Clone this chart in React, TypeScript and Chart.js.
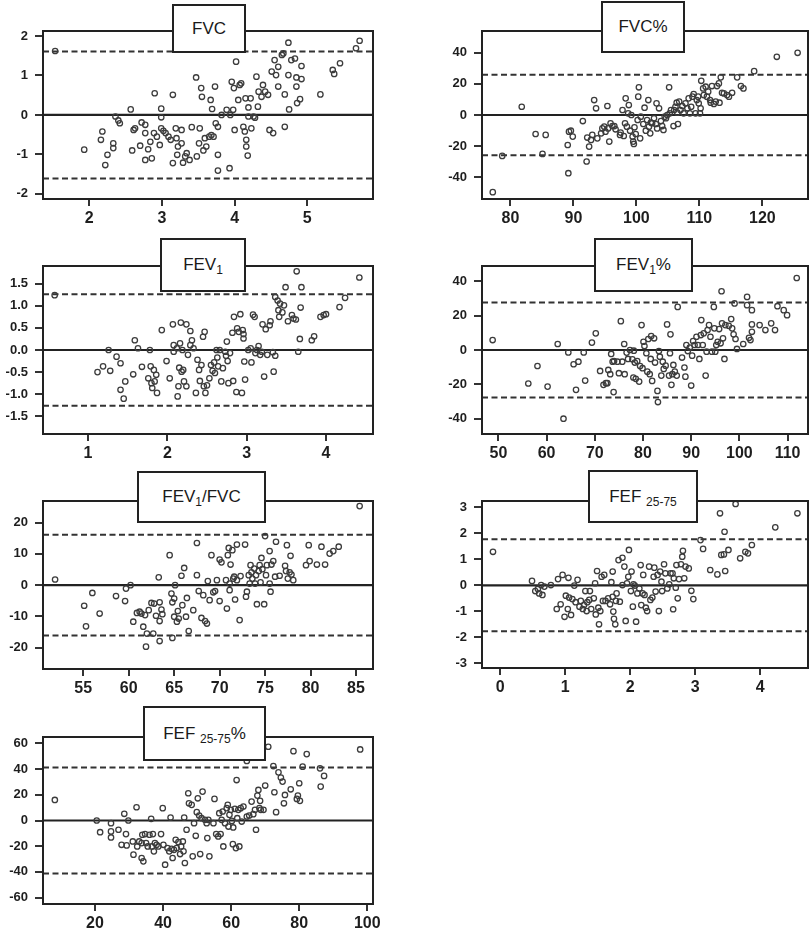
import React, { useEffect, useRef } from "react";
import { Chart, registerables } from "chart.js";

Chart.register(...registerables);

const FONT = '"Liberation Sans", Arial, Helvetica, sans-serif';

// ---------- FVC ----------
const fvcMean = [1.53,1.93,2.18,2.16,2.22,2.25,2.33,2.33,2.36,2.40,2.42,2.57,2.59,2.61,2.63,2.72,2.77,2.70,2.77,2.81,2.86,2.77,2.84,2.90,2.89,2.93,2.97,2.99,2.99,2.99,3.02,3.05,3.09,3.12,3.15,3.15,3.19,3.20,3.22,3.21,3.27,3.27,3.29,3.32,3.34,3.38,3.41,3.47,3.48,3.51,3.52,3.54,3.55,3.57,3.59,3.61,3.65,3.67,3.68,3.71,3.73,3.69,3.74,3.77,3.77,3.77,3.82,3.89,3.93,3.94,3.96,3.98,3.99,4.00,4.02,4.05,4.07,4.09,4.12,4.14,4.15,4.16,4.16,4.18,4.19,4.19,4.22,4.23,4.26,4.28,4.30,4.32,4.33,4.37,4.39,4.42,4.46,4.48,4.51,4.53,4.55,4.57,4.60,4.60,4.65,4.67,4.69,4.69,4.74,4.74,4.75,4.78,4.83,4.85,4.85,4.86,4.90,4.92,4.92,5.18,5.35,5.37,5.45,5.67,5.72];
const fvcDiff = [1.62,-0.88,-0.42,-0.63,-1.27,-1.01,-0.72,-0.84,-0.04,-0.14,-0.21,0.14,-0.90,-0.38,-0.34,-0.19,-0.25,-0.78,-1.14,-0.87,-1.10,-0.46,-0.68,0.55,-0.46,-0.55,-0.76,0.16,-0.06,-0.34,-0.40,-0.46,-0.55,-0.63,0.51,-1.22,-0.34,-0.59,-0.80,-1.01,-0.38,-0.72,-1.21,-1.05,-0.97,-1.14,-0.31,0.95,-1.05,-0.72,-0.34,0.68,0.46,-0.90,-0.59,-0.80,-0.55,0.38,-0.51,-0.55,0.72,0.15,-0.21,-0.30,-1.01,-1.41,0.00,0.13,-1.35,0.00,0.84,0.13,0.68,-0.38,1.35,0.38,0.76,0.80,-0.30,-0.42,0.42,-0.63,-0.80,-1.03,0.19,-0.04,0.42,-0.34,-0.04,-0.07,0.97,0.21,0.59,0.46,0.76,0.59,0.51,-0.38,1.10,-0.46,1.39,1.01,1.22,0.72,1.52,1.56,0.52,-0.30,1.83,1.01,0.14,1.39,1.43,0.72,0.95,0.30,0.40,1.24,0.91,0.52,1.14,1.04,1.31,1.69,1.88];
const fvcXTicks = [2, 3, 4, 5];
const fvcXLabels = ["2", "3", "4", "5"];
const fvcYTicks = [-2, -1, 0, 1, 2];
const fvcYLabels = ["-2", "-1", "0", "1", "2"];
const fvcLimit = 1.61;

// ---------- FVC% ----------
const fvcPctMean = [77.2,78.7,81.8,84.0,85.1,85.6,89.1,89.2,89.3,89.6,89.9,91.5,92.1,92.2,92.5,92.8,93.0,93.3,93.6,93.8,94.4,94.6,94.9,95.1,95.4,95.5,95.7,95.9,96.2,96.5,96.7,97.4,97.5,97.8,98.0,98.2,98.3,98.5,98.7,98.8,99.0,99.2,99.4,99.5,99.6,99.7,99.9,100.2,100.3,100.4,100.6,100.7,101.1,101.3,101.5,101.7,101.9,102.0,102.2,102.3,102.5,102.8,103.1,103.2,103.3,103.6,103.9,104.1,104.3,104.5,104.7,104.9,105.2,105.3,105.5,105.9,106.0,106.2,106.4,106.5,106.6,106.8,107.0,107.3,107.5,107.8,108.1,108.3,108.5,108.7,108.9,109.1,109.4,109.6,109.8,109.9,110.1,110.2,110.3,110.6,110.7,111.0,111.2,111.4,111.7,111.8,112.0,112.3,112.6,112.8,113.1,113.2,113.4,113.6,113.9,114.4,114.7,115.2,116.0,116.6,117.0,118.7,122.3,125.6];
const fvcPctDiff = [-49.6,-26.3,5.3,-12.2,-25.0,-12.8,-19.3,-37.4,-10.7,-10.1,-13.9,-3.9,-29.9,-14.5,-20.3,-16.0,-12.8,9.6,4.3,-15.0,-11.8,-8.6,-7.5,-10.7,5.8,-8.6,-17.1,-5.3,-7.1,-7.1,-9.2,-12.8,-11.3,3.2,-13.5,-5.3,10.7,-7.5,1.1,6.4,-10.1,0.0,-13.9,-17.1,-18.6,-7.9,-12.2,-3.2,11.8,17.8,-15.0,-1.1,-5.8,4.7,-10.1,-3.2,9.6,-7.5,-11.8,-4.9,-5.3,-2.1,-5.8,7.5,-8.6,4.3,-3.9,-7.1,-9.6,-1.1,-2.1,0.0,17.8,1.1,3.2,-7.1,3.2,5.3,7.9,1.5,-5.8,8.6,3.2,5.8,1.1,7.5,4.3,10.7,1.1,5.3,11.8,13.5,1.1,9.6,11.8,7.5,1.1,4.3,22.0,17.1,12.8,18.2,11.8,15.0,9.6,7.9,18.6,7.1,8.6,18.6,20.3,7.9,24.2,14.3,13.9,12.8,11.8,14.3,24.2,18.6,17.1,28.2,37.4,40.0];
const fvcPctXTicks = [80, 90, 100, 110, 120];
const fvcPctXLabels = ["80", "90", "100", "110", "120"];
const fvcPctYTicks = [-40, -20, 0, 20, 40];
const fvcPctYLabels = ["-40", "-20", "0", "20", "40"];
const fvcPctLimit = 25.8;

// ---------- FEV1 ----------
const fev1Mean = [0.58,1.12,1.19,1.26,1.28,1.36,1.41,1.41,1.45,1.47,1.57,1.59,1.63,1.68,1.76,1.78,1.79,1.80,1.81,1.83,1.84,1.86,1.87,1.93,1.99,2.03,2.07,2.08,2.08,2.12,2.13,2.14,2.15,2.16,2.17,2.18,2.19,2.20,2.21,2.24,2.24,2.26,2.29,2.29,2.31,2.33,2.36,2.38,2.40,2.41,2.43,2.45,2.46,2.47,2.48,2.50,2.53,2.55,2.57,2.59,2.60,2.62,2.63,2.64,2.66,2.68,2.70,2.73,2.74,2.75,2.76,2.77,2.79,2.82,2.83,2.84,2.87,2.88,2.90,2.92,2.94,2.95,2.96,2.96,2.97,2.98,3.02,3.05,3.06,3.08,3.10,3.11,3.13,3.15,3.17,3.19,3.20,3.22,3.24,3.26,3.29,3.30,3.33,3.34,3.36,3.36,3.39,3.40,3.41,3.42,3.45,3.47,3.49,3.52,3.57,3.59,3.62,3.63,3.65,3.67,3.68,3.69,3.82,3.85,3.93,3.97,4.00,4.17,4.24,4.42];
const fev1Diff = [1.24,-0.50,-0.37,0.00,-0.47,-0.15,-0.30,-0.90,-1.10,-0.71,-0.55,0.22,0.04,-0.38,-0.64,0.00,-0.37,-0.75,-0.86,-0.45,-0.71,-0.56,-0.97,0.45,-0.25,-0.64,0.58,0.11,-0.04,0.04,-1.05,-0.82,-0.40,0.15,0.62,-0.49,0.00,-0.45,-0.71,0.58,-0.82,-0.11,0.11,0.43,0.22,0.04,-0.97,-0.22,-0.45,-0.70,-0.34,0.30,-0.82,0.41,-0.97,-0.80,-0.64,-0.34,-0.47,-0.28,-0.52,0.00,-0.17,-0.37,0.00,-0.71,-0.41,-0.04,-0.13,0.19,-0.25,-0.75,-0.07,0.39,-0.70,0.75,-0.95,0.49,0.41,0.81,-0.97,0.45,0.36,0.26,-0.26,-0.67,0.00,0.04,-0.28,0.80,0.75,-0.07,0.00,0.09,-0.11,-0.04,0.58,-0.60,0.47,-0.11,0.56,0.65,-0.05,-0.49,-0.13,1.20,1.12,0.90,0.75,1.05,0.85,1.01,1.42,0.65,0.79,0.71,0.69,1.78,-0.04,0.25,0.96,1.42,0.22,0.31,0.75,0.79,0.81,0.97,1.18,1.64];
const fev1XTicks = [1, 2, 3, 4];
const fev1XLabels = ["1", "2", "3", "4"];
const fev1YTicks = [-1.5, -1.0, -0.5, 0.0, 0.5, 1.0, 1.5];
const fev1YLabels = ["-1.5", "-1.0", "-0.5", "0.0", "0.5", "1.0", "1.5"];
const fev1Limit = 1.26;

// ---------- FEV1% ----------
const fev1PctMean = [48.8,56.2,58.1,60.2,62.3,63.5,64.5,65.6,66.1,66.6,67.7,68.0,69.4,70.2,71.1,71.8,72.3,72.6,72.8,73.2,73.4,73.7,73.9,74.0,74.7,75.0,75.4,75.7,76.1,76.2,76.6,76.9,77.3,77.8,78.0,78.1,78.3,78.5,78.8,79.2,79.4,79.7,79.9,80.1,80.3,80.7,80.9,81.1,81.4,81.6,81.7,81.9,82.3,82.5,83.0,83.1,83.3,83.5,83.8,84.1,84.3,84.7,85.0,85.4,85.6,85.7,85.9,86.1,86.3,86.6,87.0,87.2,88.1,88.6,88.8,89.0,89.3,89.7,90.0,90.2,90.4,90.7,91.1,91.4,91.7,92.0,92.1,92.4,92.6,93.0,93.2,93.4,93.7,94.0,94.3,94.7,94.8,95.0,95.2,95.5,95.8,96.1,96.3,96.4,96.6,96.9,97.1,97.8,98.3,98.5,98.8,99.0,99.2,99.5,100.8,101.6,101.6,102.0,102.3,102.6,102.6,102.6,104.2,105.4,106.6,107.4,107.9,109.2,109.9,111.9];
const fev1PctDiff = [5.8,-19.5,-9.3,-21.3,3.5,-40.0,-1.4,-8.3,-23.2,-6.8,-1.4,-17.8,4.3,9.7,-12.2,-20.3,-19.3,-19.3,-11.6,-14.1,-2.3,-6.8,-24.5,-6.4,-6.8,-13.5,16.8,-6.8,3.5,-14.1,-1.5,-5.2,0.0,-5.4,-16.0,-0.4,-7.3,-16.8,-6.4,-18.4,-9.3,14.5,-10.6,4.8,2.3,-1.9,-12.6,6.4,-14.1,-5.2,8.1,-18.0,6.8,-7.3,-23.8,-30.3,-0.6,-3.9,-14.9,-6.8,-11.0,-9.1,14.9,-14.9,-1.9,9.1,-20.3,-14.1,-8.7,-12.6,-14.9,25.1,-4.4,-10.2,-15.5,2.9,-0.6,1.4,-20.7,-3.3,5.2,2.9,7.7,2.9,-5.2,8.7,17.4,2.9,9.7,-14.9,-1.0,11.6,14.5,7.7,-1.0,25.1,12.6,-1.0,2.9,4.8,12.2,3.9,34.2,15.5,6.8,-5.2,14.5,14.1,18.0,12.6,9.1,27.1,6.4,0.6,3.5,30.9,26.1,7.1,5.8,23.2,14.9,10.6,14.5,11.6,15.5,11.6,25.5,23.2,20.3,41.9];
const fev1PctXTicks = [50, 60, 70, 80, 90, 100, 110];
const fev1PctXLabels = ["50", "60", "70", "80", "90", "100", "110"];
const fev1PctYTicks = [-40, -20, 0, 20, 40];
const fev1PctYLabels = ["-40", "-20", "0", "20", "40"];
const fev1PctLimit = 27.6;

// ---------- FEV1/FVC ----------
const ratioMean = [51.9,55.1,55.3,56.0,56.8,58.6,59.6,59.7,60.2,60.5,60.9,61.2,61.4,61.6,61.8,61.9,62.0,62.2,62.5,62.7,62.8,63.0,63.3,63.4,63.4,63.4,63.6,63.7,64.5,64.7,64.8,64.8,65.0,65.0,65.1,65.3,65.4,65.5,65.8,65.9,66.1,66.3,66.4,66.6,67.1,67.5,67.5,67.7,68.0,68.2,68.4,68.6,68.7,68.9,69.1,69.3,69.5,69.7,70.0,70.0,70.2,70.7,70.8,70.9,71.0,71.1,71.1,71.2,71.4,71.5,71.6,71.7,71.9,71.9,72.2,72.3,72.8,72.9,73.0,73.2,73.3,73.4,73.5,73.6,73.8,73.9,74.0,74.1,74.3,74.4,74.5,74.6,74.7,74.9,75.0,75.1,75.2,75.5,75.5,75.6,75.7,75.9,76.1,76.2,76.6,77.2,77.3,77.4,77.5,77.7,77.8,77.9,78.1,79.5,79.8,79.9,80.7,81.2,81.6,82.1,82.5,83.1,85.4];
const ratioDiff = [1.8,-6.6,-13.2,-2.5,-9.1,-3.5,-5.1,-1.1,0.0,-11.7,-8.9,-8.5,-9.1,-13.3,-9.6,-19.7,-15.5,-8.0,-5.7,-15.5,-5.9,-9.8,2.5,-5.5,-11.5,-17.9,-7.8,-9.3,9.6,-2.7,-5.5,-16.9,-4.3,-10.1,0.0,-11.7,-8.3,-10.7,3.0,-6.4,5.5,-10.1,-4.1,-14.7,-8.0,13.5,3.2,-1.9,-10.5,-3.2,-11.5,-12.3,1.3,-4.8,9.6,-2.3,-1.9,1.6,8.2,-5.1,7.3,1.6,-7.5,9.6,11.9,-1.6,0.5,6.6,11.2,2.1,2.7,-4.6,13.0,1.6,-11.2,2.9,13.0,-3.7,-2.1,3.2,0.5,6.4,4.1,2.1,5.3,0.5,3.2,-6.1,4.5,6.4,0.9,8.7,5.1,-6.1,15.7,3.2,6.4,0.5,10.9,-2.1,6.6,7.7,2.7,13.9,3.0,6.2,4.5,12.8,2.1,4.1,9.4,3.4,1.6,6.4,12.8,7.7,6.6,12.3,6.6,10.1,10.9,12.3,25.3];
const ratioXTicks = [55, 60, 65, 70, 75, 80, 85];
const ratioXLabels = ["55", "60", "65", "70", "75", "80", "85"];
const ratioYTicks = [-20, -10, 0, 10, 20];
const ratioYLabels = ["-20", "-10", "0", "10", "20"];
const ratioLimit = 16.1;

// ---------- FEF25-75 ----------
const fefMean = [-0.11,0.49,0.54,0.58,0.60,0.63,0.65,0.68,0.78,0.87,0.89,0.93,0.96,0.99,1.01,1.04,1.05,1.06,1.09,1.11,1.14,1.16,1.19,1.22,1.24,1.27,1.29,1.31,1.33,1.34,1.37,1.38,1.40,1.44,1.46,1.47,1.49,1.51,1.52,1.54,1.56,1.58,1.60,1.62,1.66,1.69,1.71,1.73,1.73,1.74,1.75,1.77,1.78,1.79,1.82,1.84,1.88,1.88,1.91,1.93,1.95,1.97,1.98,2.01,2.02,2.04,2.05,2.07,2.09,2.11,2.14,2.16,2.17,2.19,2.20,2.22,2.24,2.26,2.29,2.31,2.34,2.36,2.37,2.39,2.42,2.44,2.46,2.48,2.49,2.52,2.54,2.57,2.60,2.62,2.65,2.66,2.67,2.70,2.71,2.73,2.75,2.78,2.80,2.81,2.83,2.85,2.90,2.94,2.97,3.08,3.12,3.23,3.34,3.38,3.40,3.44,3.46,3.45,3.51,3.62,3.69,3.77,3.81,3.87,4.23,4.57];
const fefDiff = [1.29,0.17,-0.22,-0.14,-0.31,0.01,-0.37,-0.05,0.01,-0.91,0.24,-0.73,0.40,-1.21,-0.40,-0.91,0.29,-0.47,-1.14,-0.53,-0.01,-0.65,0.21,-0.82,-0.60,-0.91,-0.76,-0.22,-0.99,-0.65,-0.56,-0.22,-0.91,-0.50,0.08,-1.12,0.55,-0.86,-1.50,-0.99,0.33,-0.60,0.40,-0.60,-0.50,-0.73,0.12,0.53,-0.44,-1.01,-1.29,-1.50,-0.60,-0.31,0.97,-0.63,1.06,0.01,0.72,-1.37,0.08,0.33,1.36,-0.22,0.53,-0.82,0.04,-0.01,-1.40,-0.31,-0.12,0.78,-0.76,-0.31,0.40,-0.37,-0.86,-0.99,0.72,-0.56,-0.47,0.33,0.68,-0.24,0.40,-0.99,0.53,0.14,-0.22,0.81,0.46,-0.12,0.04,0.46,0.46,-0.92,0.27,-0.09,0.78,-0.50,0.24,0.81,1.10,1.33,0.27,0.72,0.65,-0.21,-0.53,1.74,1.40,0.59,0.42,2.77,1.17,1.19,0.55,2.06,1.36,3.13,1.04,1.29,1.23,1.55,2.23,2.77];
const fefXTicks = [0, 1, 2, 3, 4];
const fefXLabels = ["0", "1", "2", "3", "4"];
const fefYTicks = [-3, -2, -1, 0, 1, 2, 3];
const fefYLabels = ["-3", "-2", "-1", "0", "1", "2", "3"];
const fefLimit = 1.77;

// ---------- FEF25-75% ----------
const fefPctMean = [8.2,20.5,21.5,24.7,24.7,24.7,26.9,27.8,28.6,29.1,29.3,29.8,31.1,31.3,32.2,32.4,33.0,33.7,33.7,33.9,34.2,34.7,35.0,35.5,36.0,36.5,36.7,37.0,37.3,37.6,38.1,38.6,39.4,39.9,40.1,40.6,41.3,41.8,42.2,42.5,42.8,43.2,43.7,44.0,44.5,45.0,45.3,45.8,46.0,46.2,46.4,46.9,47.4,47.6,48.4,48.7,49.1,49.6,49.9,50.2,50.6,50.9,51.3,51.6,52.3,52.8,53.0,53.3,53.6,54.8,55.1,55.6,56.2,56.5,56.9,57.2,57.5,57.7,58.2,58.7,59.0,59.2,59.5,59.9,60.2,60.5,60.6,61.1,61.4,61.6,61.8,62.1,62.4,62.8,63.1,63.6,64.6,64.6,65.3,66.0,66.5,67.0,67.3,67.7,68.0,68.3,68.5,68.7,69.5,70.0,70.9,72.4,72.7,73.2,73.9,74.6,75.1,75.5,75.8,77.5,78.3,79.3,79.6,80.0,80.2,81.0,82.2,86.1,86.3,87.3,97.9];
const fefPctDiff = [16.0,0.0,-9.1,-2.1,-8.5,-13.2,-7.2,-18.9,5.2,-10.6,-19.4,0.0,-16.3,-26.6,10.3,-20.2,-16.3,-17.6,-29.2,-11.1,-31.8,-10.6,-17.6,-20.2,-11.1,1.3,-20.2,-10.6,-24.0,-17.6,-18.9,-20.2,-10.6,9.6,-18.9,-34.4,-21.5,-24.0,2.3,-22.0,-29.2,-22.8,-15.0,-21.5,-16.8,-26.1,-20.2,-16.3,-24.0,2.3,-33.1,-7.2,21.2,13.4,12.2,-27.9,-2.1,-11.9,6.5,17.3,3.9,-26.1,1.8,22.5,0.5,-2.1,-13.7,0.5,-27.9,-2.1,16.8,-10.6,-12.4,5.7,-10.6,0.5,7.0,-20.2,-2.1,9.6,12.2,-4.7,4.4,8.3,-0.3,-18.4,-5.4,9.1,-21.5,31.5,1.8,8.3,-20.2,9.6,-0.8,10.9,46.3,3.1,3.9,14.7,4.9,8.3,-7.2,19.4,23.8,9.6,15.3,8.3,8.3,27.2,57.4,42.4,22.0,6.5,37.5,33.4,30.3,13.4,19.9,24.3,54.0,16.8,19.4,29.0,15.3,41.9,51.7,40.6,26.4,34.7,55.3];
const fefPctXTicks = [20, 40, 60, 80, 100];
const fefPctXLabels = ["20", "40", "60", "80", "100"];
const fefPctYTicks = [-60, -40, -20, 0, 20, 40, 60];
const fefPctYLabels = ["-60", "-40", "-20", "0", "20", "40", "60"];
const fefPctLimit = 41.3;

// ---------- layout (plot boxes and title boxes, in page pixels) ----------
type Box = { l: number; t: number; r: number; b: number };

const framePlugin = {
  id: "frame",
  afterDatasetsDraw(chart: any) {
    const { ctx, chartArea: a } = chart;
    ctx.save();
    ctx.strokeStyle = "#222";
    ctx.lineWidth = 2;
    ctx.strokeRect(a.left, a.top, a.right - a.left, a.bottom - a.top);
    ctx.restore();
  },
};

type PanelProps = {
  xs: number[];
  ys: number[];
  xMin: number;
  xMax: number;
  yMin: number;
  yMax: number;
  xTicks: number[];
  xLabels: string[];
  yTicks: number[];
  yLabels: string[];
  limit: number;
  box: Box;
  canvasL: number;
  canvasR: number;
  titleBox: Box;
  title: React.ReactNode;
};

const PAD_TOP = 22;
const Y_AXIS_W = 43;
const X_AXIS_H = 36;

function Panel(p: PanelProps) {
  const ref = useRef<HTMLCanvasElement>(null);
  const cw = p.canvasR - p.canvasL;
  const ch = p.box.b - p.box.t + PAD_TOP + X_AXIS_H;

  useEffect(() => {
    const canvas = ref.current;
    if (!canvas) return;
    const pts = p.xs.map((x, i) => ({ x, y: p.ys[i] }));
    const chart = new Chart(canvas, {
      type: "scatter",
      data: {
        datasets: [
          {
            data: pts,
            pointRadius: 2.7,
            pointHoverRadius: 2.7,
            pointBorderWidth: 1.3,
            pointBorderColor: "#3c3c3c",
            pointBackgroundColor: "rgba(0,0,0,0)",
            borderColor: "#3c3c3c",
            backgroundColor: "rgba(0,0,0,0)",
          },
          {
            data: [
              { x: p.xMin, y: 0 },
              { x: p.xMax, y: 0 },
            ],
            showLine: true,
            pointRadius: 0,
            borderColor: "#222",
            borderWidth: 2.2,
          },
          {
            data: [
              { x: p.xMin, y: p.limit },
              { x: p.xMax, y: p.limit },
            ],
            showLine: true,
            pointRadius: 0,
            borderColor: "#333",
            borderWidth: 2,
            borderDash: [6, 3.5],
          },
          {
            data: [
              { x: p.xMin, y: -p.limit },
              { x: p.xMax, y: -p.limit },
            ],
            showLine: true,
            pointRadius: 0,
            borderColor: "#333",
            borderWidth: 2,
            borderDash: [6, 3.5],
          },
        ],
      },
      options: {
        responsive: false,
        animation: false,
        devicePixelRatio: 1,
        events: [],
        layout: {
          padding: { left: 0, top: PAD_TOP, right: p.canvasR - p.box.r, bottom: 0 },
        },
        plugins: { legend: { display: false }, tooltip: { enabled: false } },
        scales: {
          x: {
            type: "linear",
            position: "bottom",
            min: p.xMin,
            max: p.xMax,
            afterBuildTicks: (s: any) => {
              s.ticks = p.xTicks.map((v) => ({ value: v }));
            },
            afterFit: (s: any) => {
              s.height = X_AXIS_H;
            },
            grid: {
              drawOnChartArea: false,
              drawTicks: true,
              tickLength: 7,
              color: "#333",
              lineWidth: 2,
            },
            border: { display: false },
            ticks: {
              autoSkip: false,
              maxRotation: 0,
              padding: 3,
              color: "#1e1e1e",
              font: { family: FONT, size: 16, weight: "bold" },
              callback: (v: any) => {
                const i = p.xTicks.indexOf(Number(v));
                return i >= 0 ? p.xLabels[i] : "";
              },
            },
          },
          y: {
            type: "linear",
            position: "left",
            min: p.yMin,
            max: p.yMax,
            afterBuildTicks: (s: any) => {
              s.ticks = p.yTicks.map((v) => ({ value: v }));
            },
            afterFit: (s: any) => {
              s.width = Y_AXIS_W;
            },
            grid: {
              drawOnChartArea: false,
              drawTicks: true,
              tickLength: 8,
              color: "#333",
              lineWidth: 2,
            },
            border: { display: false },
            ticks: {
              autoSkip: false,
              padding: 7,
              color: "#1e1e1e",
              font: { family: FONT, size: 13, weight: "bold" },
              callback: (v: any) => {
                const i = p.yTicks.indexOf(Number(v));
                return i >= 0 ? p.yLabels[i] : "";
              },
            },
          },
        },
      },
      plugins: [framePlugin],
    } as any);
    return () => chart.destroy();
  }, []);

  const tb = p.titleBox;
  return (
    <>
      <canvas
        ref={ref}
        width={cw}
        height={ch}
        style={{
          position: "absolute",
          left: p.canvasL,
          top: p.box.t - PAD_TOP,
          width: cw,
          height: ch,
        }}
      />
      <div
        style={{
          position: "absolute",
          left: tb.l,
          top: tb.t,
          width: tb.r - tb.l,
          height: tb.b - tb.t,
          boxSizing: "border-box",
          border: "2px solid #222",
          background: "#fff",
          display: "flex",
          alignItems: "center",
          justifyContent: "center",
          fontFamily: FONT,
          fontSize: 17,
          color: "#1a1a1a",
          whiteSpace: "nowrap",
        }}
      >
        <span>{p.title}</span>
      </div>
    </>
  );
}

const subStyle: React.CSSProperties = { fontSize: 12, verticalAlign: -4, lineHeight: 0 };

export default function App() {
  const L = 0;
  const LR = 400;
  const R = 439;
  const RR = 812;
  return (
    <div
      style={{
        position: "absolute",
        left: 0,
        top: 0,
        width: 812,
        height: 935,
        overflow: "hidden",
        background: "#fff",
      }}
    >
      <Panel
        xs={fvcMean} ys={fvcDiff} xMin={1.363} xMax={5.904} yMin={-2.13} yMax={2.127}
        xTicks={fvcXTicks} xLabels={fvcXLabels} yTicks={fvcYTicks} yLabels={fvcYLabels}
        limit={fvcLimit} box={{ l: 43, t: 31, r: 373, b: 199 }} canvasL={L} canvasR={LR}
        titleBox={{ l: 172, t: 4, r: 246, b: 53 }} title={<>FVC</>}
      />
      <Panel
        xs={fvcPctMean} ys={fvcPctDiff} xMin={75.49} xMax={127.25} yMin={-54} yMax={54}
        xTicks={fvcPctXTicks} xLabels={fvcPctXLabels} yTicks={fvcPctYTicks} yLabels={fvcPctYLabels}
        limit={fvcPctLimit} box={{ l: 482, t: 31, r: 810, b: 199 }} canvasL={R} canvasR={RR}
        titleBox={{ l: 601, t: 1, r: 685, b: 53 }} title={<>FVC%</>}
      />
      <Panel
        xs={fev1Mean} ys={fev1Diff} xMin={0.433} xMax={4.592} yMin={-1.9} yMax={1.9}
        xTicks={fev1XTicks} xLabels={fev1XLabels} yTicks={fev1YTicks} yLabels={fev1YLabels}
        limit={fev1Limit} box={{ l: 43, t: 266, r: 373, b: 434 }} canvasL={L} canvasR={LR}
        titleBox={{ l: 160, t: 238, r: 246, b: 292 }} title={<>FEV<sub style={subStyle}>1</sub></>}
      />
      <Panel
        xs={fev1PctMean} ys={fev1PctDiff} xMin={46.59} xMax={114.24} yMin={-48.9} yMax={48.9}
        xTicks={fev1PctXTicks} xLabels={fev1PctXLabels} yTicks={fev1PctYTicks} yLabels={fev1PctYLabels}
        limit={fev1PctLimit} box={{ l: 482, t: 266, r: 810, b: 434 }} canvasL={R} canvasR={RR}
        titleBox={{ l: 594, t: 238, r: 693, b: 292 }} title={<>FEV<sub style={subStyle}>1</sub>%</>}
      />
      <Panel
        xs={ratioMean} ys={ratioDiff} xMin={50.57} xMax={86.87} yMin={-26.85} yMax={26.94}
        xTicks={ratioXTicks} xLabels={ratioXLabels} yTicks={ratioYTicks} yLabels={ratioYLabels}
        limit={ratioLimit} box={{ l: 43, t: 501, r: 373, b: 669 }} canvasL={L} canvasR={LR}
        titleBox={{ l: 137, t: 471, r: 266, b: 523 }} title={<>FEV<sub style={subStyle}>1</sub>/FVC</>}
      />
      <Panel
        xs={fefMean} ys={fefDiff} xMin={-0.279} xMax={4.733} yMin={-3.18} yMax={3.243}
        xTicks={fefXTicks} xLabels={fefXLabels} yTicks={fefYTicks} yLabels={fefYLabels}
        limit={fefLimit} box={{ l: 482, t: 501, r: 810, b: 668 }} canvasL={R} canvasR={RR}
        titleBox={{ l: 588, t: 470, r: 698, b: 523 }} title={<>FEF <sub style={subStyle}>25-75</sub></>}
      />
      <Panel
        xs={fefPctMean} ys={fefPctDiff} xMin={4.72} xMax={101.67} yMin={-65} yMax={65}
        xTicks={fefPctXTicks} xLabels={fefPctXLabels} yTicks={fefPctYTicks} yLabels={fefPctYLabels}
        limit={fefPctLimit} box={{ l: 43, t: 737, r: 373, b: 904 }} canvasL={L} canvasR={LR}
        titleBox={{ l: 143, t: 706, r: 266, b: 761 }} title={<>FEF <sub style={subStyle}>25-75</sub>%</>}
      />
    </div>
  );
}
